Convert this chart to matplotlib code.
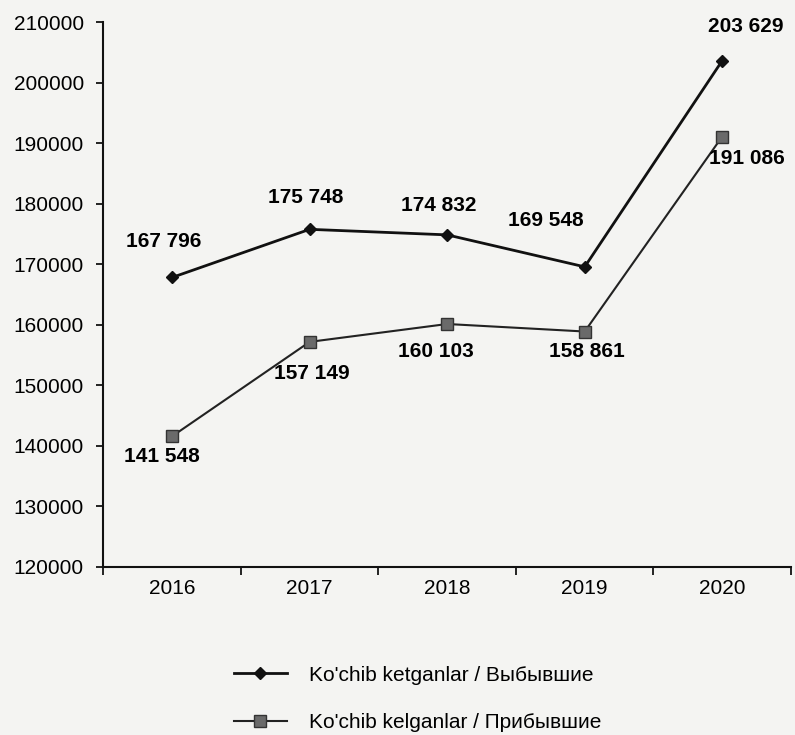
import matplotlib.pyplot as plt
from matplotlib.ticker import FixedLocator, NullFormatter

years = ['2016', '2017', '2018', '2019', '2020']
ketgan = [167796, 175748, 174832, 169548, 203629]   # Выбывшие
kelgan = [141548, 157149, 160103, 158861, 191086]   # Прибывшие

label_ketgan = "Ko'chib ketganlar / Выбывшие"
label_kelgan = "Ko'chib kelganlar / Прибывшие"

plt.rcParams['font.family'] = ['Liberation Sans', 'DejaVu Sans']

fig = plt.figure(figsize=(7.95, 7.35), dpi=100, facecolor='#f4f4f2')
ax = fig.add_axes([0.13, 0.229, 0.865, 0.741])
ax.set_facecolor('#f4f4f2')

x = list(range(len(years)))
ax.plot(x, ketgan, color='#111111', lw=2, marker='D', ms=6.5,
        mfc='#111111', mec='#111111', label=label_ketgan)
ax.plot(x, kelgan, color='#222222', lw=1.5, marker='s', ms=8,
        mfc='#6a6a6a', mec='#333333', label=label_kelgan)

def fmt(v):
    return f'{v:,}'.replace(',', ' ')

# подписи значений (смещения в пикселях)
off_top = [(-8, 36), (-4, 32), (-8, 29), (-39, 46), (23, 34)]
for i, v in enumerate(ketgan):
    ax.annotate(fmt(v), (x[i], v), xytext=off_top[i], textcoords='offset pixels',
                ha='center', va='center', fontsize=15, fontweight='bold')
off_bot = [(-10, -20), (2, -32), (-11, -27), (2, -20), (25, -22)]
for i, v in enumerate(kelgan):
    ax.annotate(fmt(v), (x[i], v), xytext=off_bot[i], textcoords='offset pixels',
                ha='center', va='center', fontsize=15, fontweight='bold')

ax.set_xlim(-0.5, 4.5)
ax.set_ylim(120000, 210000)
ax.set_yticks(range(120000, 210001, 10000))
ax.set_yticklabels([str(v) for v in range(120000, 210001, 10000)], fontsize=15)

ax.set_xticks(x)
ax.set_xticklabels(years, fontsize=15)
ax.tick_params(axis='x', which='major', length=0, pad=9)
ax.xaxis.set_minor_locator(FixedLocator([i - 0.5 for i in range(len(years) + 1)]))
ax.xaxis.set_minor_formatter(NullFormatter())
ax.tick_params(axis='x', which='minor', length=6, width=1.2, direction='out')
ax.tick_params(axis='y', length=5, width=1.2, direction='out', pad=9)

for s in ['top', 'right']:
    ax.spines[s].set_visible(False)
for s in ['left', 'bottom']:
    ax.spines[s].set_linewidth(1.5)
    ax.spines[s].set_color('#111111')

fig.legend(loc='upper left', bbox_to_anchor=(215 / 795, 1 - 647 / 735),
           frameon=False, fontsize=15, handlelength=2.55, labelspacing=1.35,
           handletextpad=1.05)

fig.savefig('out.png', dpi=100, facecolor=fig.get_facecolor())
